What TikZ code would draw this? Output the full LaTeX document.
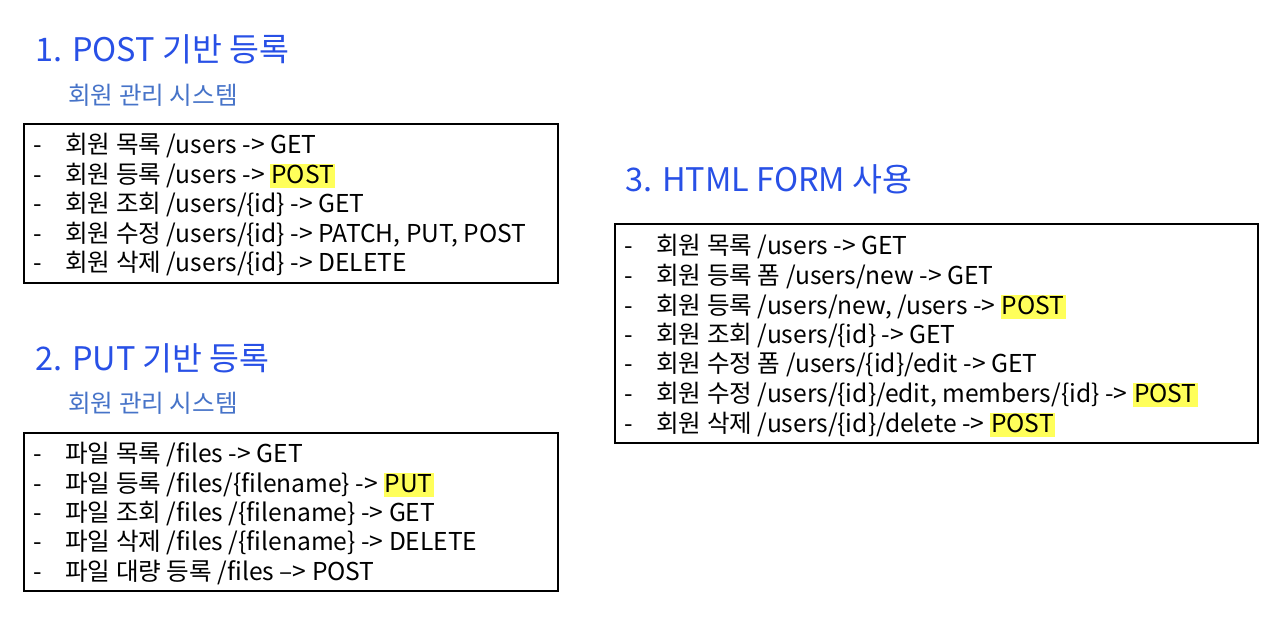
\documentclass[tikz,border=0pt]{standalone}
\usepackage{fontspec}
\setmainfont{Noto Sans CJK KR}
\usetikzlibrary{positioning}
\definecolor{titleblue}{RGB}{40,80,230}
\definecolor{subblue}{RGB}{70,115,200}
\definecolor{hlyellow}{RGB}{255,255,90}
\newcommand{\hl}[1]{{\setlength{\fboxsep}{0pt}\colorbox{hlyellow}{\rule[-2.8pt]{0pt}{13.6pt}\kern0.6pt#1\kern0.6pt}}}
\newcommand{\itm}{\makebox[0.64cm][l]{-}}

\begin{document}
\begin{tikzpicture}[x=0.02cm, y=-0.02cm,
    sectitle/.style={anchor=base west, inner sep=0, text=titleblue, font=\fontsize{18.5}{22}\selectfont},
    subtitle/.style={anchor=base west, inner sep=0, text=subblue, font=\fontsize{14}{17}\selectfont},
    listbox/.style={draw, line width=0.8pt},
    listitem/.style={anchor=base west, inner sep=0, font=\fontsize{14}{16}\selectfont}
]
    \useasboundingbox (0,0) rectangle (1280,623);

    % 1. POST based
    \node[sectitle] (title1) at (35,61) {1. POST 기반 등록};
    \node[subtitle] (sub1) at (68,104) {회원 관리 시스템};
    \node[listbox, minimum width=10.68cm, minimum height=3.18cm] (box1) at (291,203.5) {};
    \node[listitem] (p1) at (33,153) {\itm 회원 목록 /users -> GET};
    \node[listitem] (p2) at (33,183) {\itm 회원 등록 /users -> \hl{POST}};
    \node[listitem] (p3) at (33,212) {\itm 회원 조회 /users/\{id\} -> GET};
    \node[listitem] (p4) at (33,242) {\itm 회원 수정 /users/\{id\} -> PATCH, PUT, POST};
    \node[listitem] (p5) at (33,271) {\itm 회원 삭제 /users/\{id\} -> DELETE};

    % 2. PUT based
    \node[sectitle] (title2) at (35,370) {2. PUT 기반 등록};
    \node[subtitle] (sub2) at (68,412) {회원 관리 시스템};
    \node[listbox, minimum width=10.68cm, minimum height=3.16cm] (box2) at (291,512) {};
    \node[listitem] (f1) at (33,462) {\itm 파일 목록 /files -> GET};
    \node[listitem] (f2) at (33,492) {\itm 파일 등록 /files/\{filename\} -> \hl{PUT}};
    \node[listitem] (f3) at (33,521) {\itm 파일 조회 /files /\{filename\} -> GET};
    \node[listitem] (f4) at (33,550) {\itm 파일 삭제 /files /\{filename\} -> DELETE};
    \node[listitem] (f5) at (33,580) {\itm 파일 대량 등록 /files --> POST};

    % 3. HTML form
    \node[sectitle] (title3) at (625,191) {3. HTML FORM 사용};
    \node[listbox, minimum width=12.86cm, minimum height=4.38cm] (box3) at (936.5,333.5) {};
    \node[listitem] (h1) at (624,254) {\itm 회원 목록 /users -> GET};
    \node[listitem] (h2) at (624,284) {\itm 회원 등록 폼 /users/new -> GET};
    \node[listitem] (h3) at (624,314) {\itm 회원 등록 /users/new, /users -> \hl{POST}};
    \node[listitem] (h4) at (624,343) {\itm 회원 조회 /users/\{id\} -> GET};
    \node[listitem] (h5) at (624,372) {\itm 회원 수정 폼 /users/\{id\}/edit -> GET};
    \node[listitem] (h6) at (624,402) {\itm 회원 수정 /users/\{id\}/edit, members/\{id\} -> \hl{POST}};
    \node[listitem] (h7) at (624,432) {\itm 회원 삭제 /users/\{id\}/delete -> \hl{POST}};

\end{tikzpicture}
\end{document}
